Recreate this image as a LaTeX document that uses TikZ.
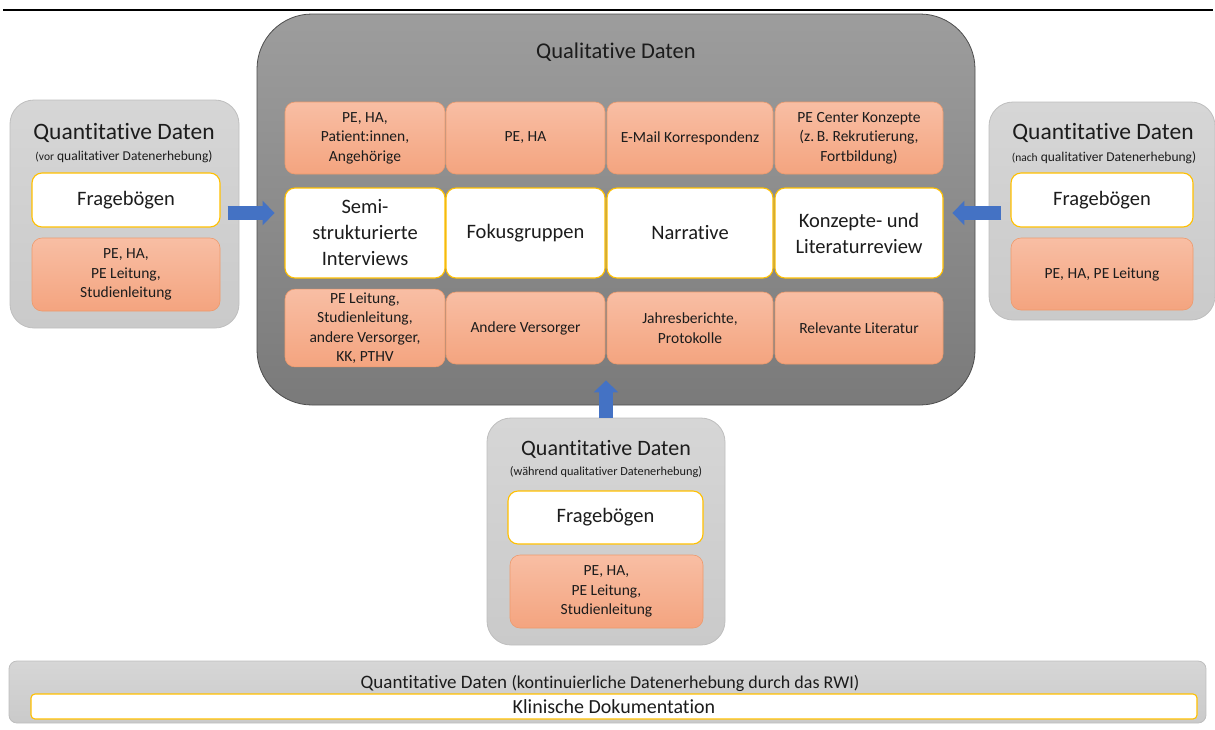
\documentclass[tikz,border=0pt]{standalone}
\usepackage{fontspec}
\setmainfont{Carlito}[Ligatures=NoCommon]
\usetikzlibrary{arrows.meta,positioning,calc}

\definecolor{qualtop}{HTML}{9D9D9D}
\definecolor{qualbot}{HTML}{7A7A7A}
\definecolor{qualline}{HTML}{4D4D4D}
\definecolor{quanttop}{HTML}{D6D6D6}
\definecolor{quantbot}{HTML}{CACACA}
\definecolor{quantline}{HTML}{BEBEBE}
\definecolor{orangetop}{HTML}{F8BEA4}
\definecolor{orangebot}{HTML}{F4A47F}
\definecolor{orangeline}{HTML}{EE9A6C}
\definecolor{boxgold}{HTML}{FFC000}
\definecolor{arrowblue}{HTML}{4472C4}
\definecolor{textdark}{HTML}{1C1C1C}

\begin{document}
\begin{tikzpicture}[x=1pt,y=-1pt,every node/.style={text=textdark}]
  \tikzstyle{qualbox}=[rectangle,rounded corners=55pt,draw=qualline,top color=qualtop,bottom color=qualbot,line width=0.8pt]
  \tikzstyle{quantbox}=[rectangle,rounded corners=24pt,draw=quantline,top color=quanttop,bottom color=quantbot,line width=0.8pt]
  \tikzstyle{whitebox}=[rectangle,rounded corners=10pt,draw=boxgold,fill=white,line width=1.1pt,align=center,font=\fontsize{20.5}{26}\selectfont]
  \tikzstyle{orangebox}=[rectangle,rounded corners=10pt,draw=orangeline,top color=orangetop,bottom color=orangebot,line width=0.6pt,align=center,font=\fontsize{15.5}{19.5}\selectfont]
  \tikzstyle{blockarrow}=[-{Triangle[length=12pt,width=24pt]},line width=14pt,draw=arrowblue]
  \tikzstyle{bigtitle}=[font=\fontsize{23.5}{28}\selectfont]
  \tikzstyle{subtitle}=[font=\fontsize{13.5}{15}\selectfont]

  \useasboundingbox (0,0) rectangle (1215,729);
  \draw[line width=2pt] (3,10) -- (1213,10);

  % qualitative block
  \node[qualbox,minimum width=718pt,minimum height=391pt] (qual) at (616,209.5) {};
  \node[font=\fontsize{22.5}{26}\selectfont] (qualtitle) at (616,52) {Qualitative Daten};

  \node[orangebox,minimum width=160pt,minimum height=72pt] (ptop1) at (365,138) {PE, HA,\\Patient:innen,\\Angehörige};
  \node[orangebox,minimum width=159pt,minimum height=72pt] (ptop2) at (525.5,138) {PE, HA};
  \node[orangebox,minimum width=166pt,minimum height=72pt] (ptop3) at (690,138) {E-Mail Korrespondenz};
  \node[orangebox,minimum width=168pt,minimum height=72pt] (ptop4) at (859,138) {PE Center Konzepte\\(z.\,B. Rekrutierung,\\Fortbildung)};

  \node[whitebox,minimum width=160pt,minimum height=90pt] (semi) at (365,233) {Semi-\\strukturierte\\Interviews};
  \node[whitebox,minimum width=159pt,minimum height=90pt] (fokus) at (525.5,233) {Fokusgruppen};
  \node[whitebox,minimum width=166pt,minimum height=90pt] (narr) at (690,233) {Narrative};
  \node[whitebox,minimum width=168pt,minimum height=90pt] (review) at (859,233) {Konzepte- und\\Literaturreview};

  \node[orangebox,minimum width=160pt,minimum height=72pt] (pbot1) at (365,328) {PE Leitung,\\Studienleitung,\\andere Versorger,\\KK, PTHV};
  \node[orangebox,minimum width=159pt,minimum height=72pt] (pbot2) at (525.5,328) {Andere Versorger};
  \node[orangebox,minimum width=166pt,minimum height=72pt] (pbot3) at (690,328) {Jahresberichte,\\Protokolle};
  \node[orangebox,minimum width=168pt,minimum height=72pt] (pbot4) at (859,328) {Relevante Literatur};

  % quantitative, before
  \node[quantbox,minimum width=229pt,minimum height=228pt] (lquant) at (124.5,214) {};
  \node[bigtitle] (ltitle) at (124,133) {Quantitative Daten};
  \node[subtitle] (lsub) at (124,157) {{\fontsize{11.5}{15}\selectfont(vor} qualitativer Datenerhebung)};
  \node[whitebox,minimum width=188pt,minimum height=54pt] (lfrage) at (126,200) {Fragebögen};
  \node[orangebox,minimum width=188pt,minimum height=73pt] (lgroup) at (126,274.5) {PE, HA,\\PE Leitung,\\Studienleitung};

  % quantitative, after
  \node[quantbox,minimum width=226pt,minimum height=218pt] (rquant) at (1102,211) {};
  \node[bigtitle] (rtitle) at (1103,133) {Quantitative Daten};
  \node[subtitle] (rsub) at (1104,158) {{\fontsize{11.5}{15}\selectfont(nach} qualitativer Datenerhebung)};
  \node[whitebox,minimum width=182pt,minimum height=54pt] (rfrage) at (1102,200) {Fragebögen};
  \node[orangebox,minimum width=182pt,minimum height=72pt] (rgroup) at (1102,274) {PE, HA, PE Leitung};

  % quantitative, during
  \node[quantbox,minimum width=238pt,minimum height=227pt] (bquant) at (606,531.5) {};
  \node[font=\fontsize{22}{26}\selectfont] (btitle) at (606,449) {Quantitative Daten};
  \node[font=\fontsize{12.3}{14}\selectfont] (bsub) at (606,472) {(während qualitativer Datenerhebung)};
  \node[whitebox,minimum width=195pt,minimum height=53pt] (bfrage) at (605.5,517.5) {Fragebögen};
  \node[orangebox,minimum width=193pt,minimum height=73pt] (bgroup) at (606.5,591.5) {PE, HA,\\PE Leitung,\\Studienleitung};

  % continuous data
  \node[quantbox,rounded corners=8pt,minimum width=1197pt,minimum height=62pt] (strip) at (607.5,692) {};
  \node[font=\fontsize{19}{22}\selectfont] (striptitle) at (610,683) {Quantitative Daten {\fontsize{18}{22}\selectfont(kontinuierliche Datenerhebung durch das RWI)}};
  \node[whitebox,rounded corners=4pt,minimum width=1166pt,minimum height=25pt,inner sep=0pt,font=\fontsize{20}{22}\selectfont] (klinik) at (614,706.5) {Klinische Dokumentation};

  % arrows
  \draw[blockarrow] ([xshift=7pt,yshift=-13pt]lfrage.east) -- ([xshift=18pt,yshift=-13pt]lfrage.east -| qual.west);
  \draw[blockarrow] ([xshift=-9pt,yshift=-13pt]rfrage.west) -- ([xshift=-23pt,yshift=-13pt]rfrage.west -| qual.east);
  \draw[blockarrow] (bquant.north) -- ([yshift=25pt]bquant.north |- qual.south);
\end{tikzpicture}
\end{document}
